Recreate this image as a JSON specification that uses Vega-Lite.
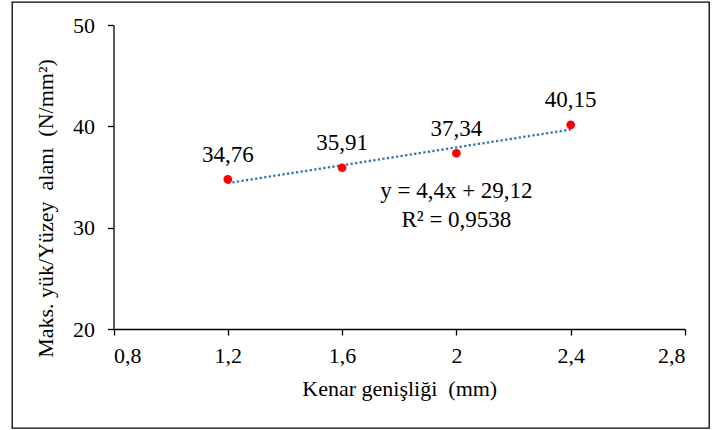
{
  "$schema": "https://vega.github.io/schema/vega-lite/v6.json",
  "width": 697,
  "height": 426,
  "autosize": {"type": "none"},
  "padding": {"left": 12, "top": 2, "right": 3, "bottom": 2},
  "background": "white",
  "config": {
    "view": {"stroke": "#000000", "strokeWidth": 1.3},
    "font": "Liberation Serif",
    "locale": {"number": {"decimal": ",", "thousands": ".", "grouping": [3], "currency": ["", ""]}},
    "axis": {
      "grid": false,
      "domainColor": "#000000",
      "domainWidth": 1.3,
      "tickColor": "#000000",
      "tickWidth": 1.3,
      "tickSize": 6,
      "labelColor": "#000000",
      "labelFontSize": 22,
      "labelFont": "Liberation Serif",
      "titleColor": "#000000",
      "titleFontSize": 22,
      "titleFontWeight": "normal",
      "titleFont": "Liberation Serif"
    }
  },
  "data": {
    "values": [
      {"x": 1.2, "y": 34.76},
      {"x": 1.6, "y": 35.91},
      {"x": 2.0, "y": 37.34},
      {"x": 2.4, "y": 40.15}
    ]
  },
  "encoding": {
    "x": {
      "field": "x",
      "type": "quantitative",
      "scale": {"domain": [0.8, 2.8], "range": [101.5, 673], "nice": false, "zero": false},
      "axis": {
        "title": "Kenar genişliği\u00a0 (mm)",
        "values": [0.8, 1.2, 1.6, 2.0, 2.4, 2.8],
        "format": ".1~f",
        "offset": -99,
        "labelPadding": 10,
        "titlePadding": 12
      }
    },
    "y": {
      "field": "y",
      "type": "quantitative",
      "scale": {"domain": [20, 50], "range": [327, 23], "nice": false, "zero": false},
      "axis": {
        "title": "Maks. yük/Yüzey\u00a0 alanı\u00a0 (N/mm²)",
        "values": [20, 30, 40, 50],
        "format": "d",
        "offset": -101.5,
        "labelPadding": 13,
        "titlePadding": 15,
        "titleY": 206
      }
    }
  },
  "layer": [
    {
      "transform": [{"regression": "y", "on": "x"}],
      "mark": {"type": "line", "color": "#2E75B6", "strokeWidth": 2.3, "strokeDash": [2.3, 2.3]}
    },
    {
      "mark": {"type": "point", "filled": true, "color": "#FF0000", "size": 75, "opacity": 1}
    },
    {
      "mark": {"type": "text", "fontSize": 23, "fontWeight": "normal", "dy": -17.5, "baseline": "alphabetic", "color": "#000000"},
      "encoding": {"text": {"field": "y", "type": "quantitative", "format": ".2f"}}
    },
    {
      "transform": [{"filter": {"field": "x", "equal": 2}}],
      "mark": {"type": "text", "fontSize": 23, "fontWeight": "normal", "baseline": "alphabetic", "color": "#000000", "text": "y = 4,4x + 29,12"},
      "encoding": {"x": {"datum": 2.0}, "y": {"datum": 32.93}}
    },
    {
      "transform": [{"filter": {"field": "x", "equal": 2}}],
      "mark": {"type": "text", "fontSize": 23, "fontWeight": "normal", "baseline": "alphabetic", "color": "#000000", "text": "R² = 0,9538"},
      "encoding": {"x": {"datum": 2.0}, "y": {"datum": 30.1}}
    }
  ]
}
